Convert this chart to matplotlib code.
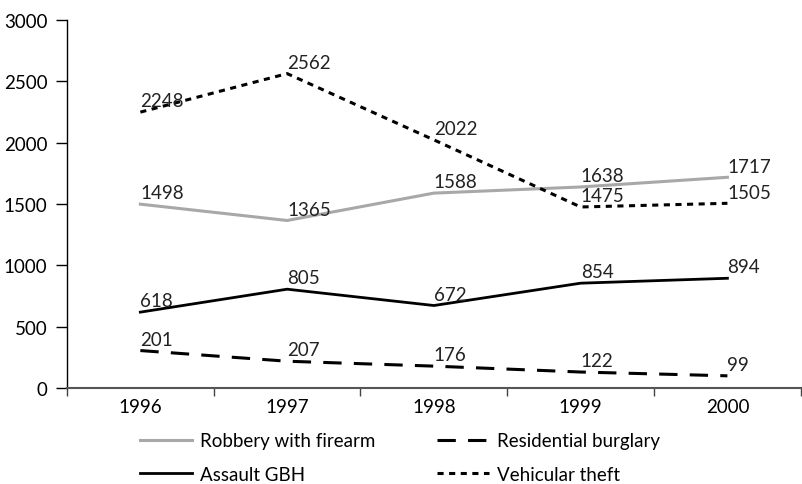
import matplotlib
matplotlib.use('Agg')
import matplotlib.pyplot as plt
import numpy as np

plt.rcParams['font.family'] = ['Lato', 'DejaVu Sans']

years = ['1996', '1997', '1998', '1999', '2000']

robbery = [1498, 1365, 1588, 1638, 1717]
assault = [618, 805, 672, 854, 894]
vehicular = [2248, 2562, 2022, 1475, 1505]
# burglary line as drawn in the picture; its printed labels differ
burglary = [305, 218, 178, 130, 99]
burglary_labels = ['201', '207', '176', '122', '99']

series = [
    ('Robbery with firearm', robbery, [str(v) for v in robbery],
     dict(color='#a8a8a8', lw=2.2, ls='-')),
    ('Assault GBH', assault, [str(v) for v in assault],
     dict(color='black', lw=2.0, ls='-')),
    ('Residential burglary', burglary, burglary_labels,
     dict(color='black', lw=2.2, ls=(0, (6, 4)))),
    ('Vehicular theft', vehicular, [str(v) for v in vehicular],
     dict(color='black', lw=2.2, ls=(0, (2, 1.8)))),
]

fs = 13.5
fig = plt.figure(figsize=(8.02, 4.85), dpi=100)
ax = fig.add_axes((0.0835, 0.198, 0.915, 0.759))

x = np.arange(len(years))
for name, vals, labs, style in series:
    ax.plot(x, vals, label=name, **style)
    for xi, v, t in zip(x, vals, labs):
        ax.annotate(t, (xi, v), xytext=(0, 2), textcoords='offset points',
                    ha='left', va='bottom', fontsize=fs, color='#222222')

ax.set_xlim(-0.5, 4.5)
ax.set_ylim(0, 3000)
ax.set_yticks(np.arange(0, 3001, 500))
ax.tick_params(axis='y', labelsize=fs, direction='out', length=8, width=1, pad=6)

ax.set_xticks(np.arange(-0.5, 4.6, 1))
ax.set_xticklabels([])
ax.set_xticks(x, minor=True)
ax.set_xticklabels(years, minor=True)
ax.tick_params(axis='x', which='major', direction='out', length=6, width=1, color='#444444')
ax.tick_params(axis='x', which='minor', length=0, labelsize=fs, pad=7)

ax.spines['top'].set_visible(False)
ax.spines['right'].set_visible(False)
ax.spines['bottom'].set_color('#555555')
ax.spines['bottom'].set_linewidth(1.5)
ax.spines['left'].set_linewidth(1)

fig.legend(loc='upper left', bbox_to_anchor=(0.1746, 0.107), ncol=2, frameon=False,
           fontsize=fs, handlelength=2.77, handletextpad=0.45, columnspacing=3.25,
           labelspacing=0.9, borderpad=0, borderaxespad=0)

plt.savefig('out.png')
